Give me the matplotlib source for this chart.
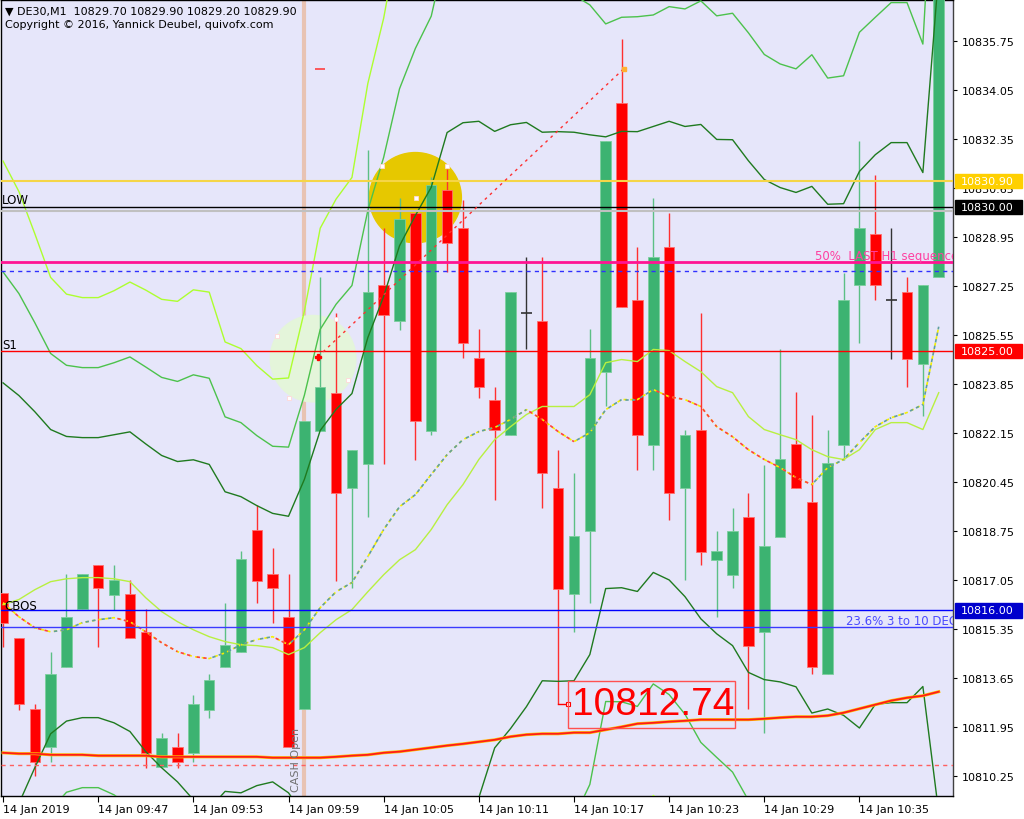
import numpy as np
import matplotlib.pyplot as plt
from matplotlib.patches import Ellipse, Rectangle
import matplotlib.transforms as mtransforms

# DE30 M1, 14 Jan 2019, one bar per minute from 09:41
opens = [10816.62, 10815.06, 10812.59, 10811.27, 10814.05, 10816.06, 10817.59, 10816.55, 10816.58, 10815.26,
         10810.58, 10811.27, 10811.06, 10812.56, 10814.05, 10814.57, 10818.81, 10817.28, 10815.78, 10812.59,
         10822.24, 10823.56, 10820.26, 10821.10, 10827.31, 10826.06, 10829.78, 10822.24, 10830.61, 10829.29,
         10824.78, 10823.32, 10822.10, 10826.31, 10826.06, 10820.26, 10816.58, 10818.77, 10824.29, 10833.60,
         10826.76, 10821.76, 10828.63, 10820.26, 10822.28, 10817.76, 10817.24, 10819.26, 10815.26, 10818.56,
         10821.79, 10819.78, 10813.81, 10821.76, 10827.28, 10829.08, 10826.76, 10827.07, 10824.57, 10827.56]
highs = [10816.62, 10815.06, 10812.76, 10814.57, 10817.28, 10817.28, 10817.59, 10817.59, 10817.07, 10816.06,
         10811.76, 10811.76, 10813.08, 10813.81, 10816.27, 10818.08, 10819.67, 10818.18, 10817.28, 10822.56,
         10827.56, 10826.31, 10821.58, 10832.00, 10829.29, 10830.30, 10829.78, 10831.06, 10831.31, 10830.26,
         10825.78, 10823.77, 10827.07, 10828.28, 10828.28, 10821.58, 10820.78, 10825.78, 10832.28, 10835.82,
         10828.63, 10830.30, 10829.81, 10822.28, 10826.31, 10818.77, 10819.57, 10820.09, 10821.06, 10825.09,
         10823.60, 10822.80, 10822.28, 10827.73, 10832.28, 10831.10, 10829.29, 10827.59, 10827.28, 10838.00]
lows = [10814.74, 10812.56, 10810.26, 10810.75, 10814.05, 10816.06, 10814.74, 10816.03, 10815.06, 10810.54,
        10810.58, 10810.54, 10810.75, 10812.28, 10814.05, 10814.57, 10816.27, 10815.58, 10811.27, 10812.59,
        10822.24, 10817.03, 10816.79, 10819.26, 10821.10, 10825.75, 10821.24, 10822.10, 10827.76, 10824.78,
        10823.39, 10819.85, 10822.10, 10825.06, 10819.57, 10812.74, 10815.26, 10816.27, 10823.08, 10826.55,
        10820.89, 10820.89, 10819.15, 10817.07, 10817.59, 10815.78, 10816.79, 10812.59, 10811.76, 10818.56,
        10820.26, 10813.81, 10813.81, 10821.24, 10825.30, 10826.79, 10824.74, 10823.74, 10822.76, 10827.56]
closes = [10815.58, 10812.76, 10810.75, 10813.81, 10815.78, 10817.28, 10816.79, 10817.07, 10815.06, 10811.06,
          10811.58, 10810.75, 10812.76, 10813.60, 10814.81, 10817.80, 10817.03, 10816.79, 10811.27, 10822.56,
          10823.77, 10820.09, 10821.58, 10827.07, 10826.27, 10829.60, 10822.56, 10830.78, 10828.77, 10825.30,
          10823.77, 10822.28, 10827.07, 10826.31, 10820.78, 10816.76, 10818.60, 10824.78, 10832.28, 10826.55,
          10822.10, 10828.28, 10820.09, 10822.10, 10818.04, 10818.08, 10818.77, 10814.78, 10818.25, 10821.27,
          10820.26, 10814.05, 10821.13, 10826.76, 10829.29, 10827.28, 10826.76, 10824.74, 10827.28, 10838.00]

# bollinger middle line and one deviation (bands drawn at 2, 3 and 4 deviations)
bb_mid = [10816.20, 10816.38, 10816.72, 10817.00, 10817.10, 10817.14, 10817.14, 10817.10, 10817.00, 10816.44,
          10815.96, 10815.61, 10815.33, 10815.09, 10814.92, 10814.81, 10814.78, 10814.71, 10814.47, 10814.71,
          10815.23, 10815.68, 10816.03, 10816.65, 10817.24, 10817.76, 10818.11, 10818.81, 10819.67, 10820.37,
          10821.24, 10821.93, 10822.38, 10822.80, 10823.08, 10823.08, 10823.08, 10823.49, 10824.60, 10824.71,
          10824.64, 10825.06, 10825.02, 10824.64, 10824.29, 10823.77, 10823.56, 10822.73, 10822.28, 10822.10,
          10821.93, 10821.58, 10821.34, 10821.24, 10821.58, 10822.28, 10822.52, 10822.52, 10822.28, 10823.56]
bb_dev = [3.85, 3.54, 3.09, 2.64, 2.47, 2.43, 2.43, 2.50, 2.60, 2.67,
          2.71, 2.78, 2.95, 2.99, 2.60, 2.57, 2.43, 2.33, 2.40, 2.92,
          3.51, 3.65, 3.75, 4.41, 4.83, 5.45, 5.80, 5.94, 6.46, 6.28,
          5.87, 5.35, 5.24, 5.07, 4.76, 4.77, 4.76, 4.51, 3.92, 3.96,
          3.99, 3.87, 3.98, 4.08, 4.29, 4.29, 4.39, 4.44, 4.34, 4.29,
          4.29, 4.57, 4.38, 4.44, 4.83, 4.77, 4.86, 4.86, 4.46, 7.29]

ma_fast = [10816.27, 10815.78, 10815.40, 10815.26, 10815.33, 10815.58, 10815.68, 10815.75, 10815.61, 10815.26,
           10814.88, 10814.57, 10814.40, 10814.33, 10814.53, 10814.81, 10814.99, 10815.09, 10814.81, 10815.33,
           10816.10, 10816.65, 10816.97, 10817.87, 10818.81, 10819.60, 10820.02, 10820.72, 10821.41, 10821.93,
           10822.21, 10822.35, 10822.63, 10822.97, 10822.63, 10822.21, 10821.86, 10822.17, 10822.97, 10823.32,
           10823.32, 10823.67, 10823.42, 10823.32, 10823.08, 10822.38, 10822.03, 10821.58, 10821.24, 10820.96,
           10820.61, 10820.37, 10820.96, 10821.24, 10821.83, 10822.38, 10822.69, 10822.87, 10823.15, 10825.85]

ma_slow = [10811.06, 10811.03, 10811.03, 10810.99, 10810.99, 10810.99, 10810.96, 10810.96, 10810.96, 10810.96,
           10810.92, 10810.92, 10810.92, 10810.92, 10810.92, 10810.92, 10810.92, 10810.89, 10810.89, 10810.89,
           10810.89, 10810.92, 10810.96, 10810.99, 10811.06, 10811.10, 10811.17, 10811.24, 10811.31, 10811.37,
           10811.44, 10811.51, 10811.62, 10811.69, 10811.72, 10811.72, 10811.76, 10811.76, 10811.86, 10811.96,
           10812.07, 10812.10, 10812.14, 10812.17, 10812.21, 10812.21, 10812.21, 10812.21, 10812.24, 10812.28,
           10812.31, 10812.31, 10812.35, 10812.45, 10812.59, 10812.73, 10812.87, 10812.97, 10813.04, 10813.18]

time_ticks = [0, 6, 12, 18, 24, 30, 36, 42, 48, 54]
time_labels = ['14 Jan 2019', '14 Jan 09:47', '14 Jan 09:53', '14 Jan 09:59', '14 Jan 10:05',
               '14 Jan 10:11', '14 Jan 10:17', '14 Jan 10:23', '14 Jan 10:29', '14 Jan 10:35']
price_ticks = [10810.25, 10811.95, 10813.65, 10815.35, 10817.05, 10818.75, 10820.45, 10822.15,
               10823.85, 10825.55, 10827.25, 10828.95, 10830.65, 10832.35, 10834.05, 10835.75]

lvl_low = 10830.00
lvl_yellow = 10830.90
lvl_s1 = 10825.00
lvl_blue = 10816.00
lvl_fib = 10815.42
lvl_h1 = 10828.11
lvl_blue_dash = 10827.80
lvl_grey = 10829.86
lvl_red_dash = 10810.64
swing_low = 10812.74

plt.rcParams['font.family'] = 'DejaVu Sans'
plt.rcParams['font.size'] = 8

fig = plt.figure(figsize=(10.24, 8.2), dpi=100, facecolor='white')
ax = fig.add_axes([1/1024, 23/820, 952/1024, 796/820])
ax.set_facecolor('#e6e6fa')

x = np.arange(len(opens))
o, h, l, c = map(np.array, (opens, highs, lows, closes))
mid = np.array(bb_mid)
dev = np.array(bb_dev)

# background drawings
ax.axvline(19, color='#e8c3b3', lw=3, zorder=1)
ax.add_patch(Ellipse((26.0, 10830.33), 5.8, 3.13, color='#e6c800', zorder=1))
ax.add_patch(Ellipse((19.55, 10824.74), 5.4, 3.0, color='#e4f5da', zorder=1))

# candles
w = 0.66
up = c > o
dn = c < o
fl = c == o
ax.vlines(x[up], l[up], h[up], color='#5cbf85', lw=1, zorder=3)
ax.bar(x[up], c[up] - o[up], bottom=o[up], width=w, color='#3cb371', edgecolor='#7ccf9e', lw=0.6, zorder=3)
ax.vlines(x[dn], l[dn], h[dn], color='#ff3030', lw=1, zorder=3)
ax.bar(x[dn], o[dn] - c[dn], bottom=c[dn], width=w, color='#ff0000', edgecolor='#ff7070', lw=0.6, zorder=3)
ax.vlines(x[fl], l[fl], h[fl], color='#333333', lw=1, zorder=3)
ax.hlines(o[fl], x[fl] - 0.35, x[fl] + 0.35, color='#333333', lw=1.2, zorder=3)

# bands
ax.plot(x, mid, color='#b8f040', lw=1, zorder=4)
for k, col in [(2, '#1f7a1f'), (3, '#4cc24c'), (4, '#adff2f')]:
    ax.plot(x, mid + k * dev, color=col, lw=1, zorder=4)
    ax.plot(x, mid - k * dev, color=col, lw=1, zorder=4)

# fast ma, dotted and coloured by direction
mf = np.array(ma_fast)
ax.plot(x, mf, color='#f5f000', lw=1.2, ls=(0, (2, 2)), zorder=4)
for i in range(len(mf) - 1):
    col = '#ff4040' if mf[i + 1] < mf[i] else '#5f9ea0'
    ax.plot(x[i:i + 2], mf[i:i + 2], color=col, lw=1.2, ls=(2, (2, 2)), zorder=4)

# slow ma
ax.plot(x, ma_slow, color='#ffc000', lw=2.2, zorder=4)
ax.plot(x, ma_slow, color='#ff1a1a', lw=1.3, zorder=4)

# horizontal levels
ax.axhline(lvl_yellow, color='#f5d547', lw=1.5, zorder=5)
ax.axhline(lvl_grey, color='#c0c0c0', lw=1.5, zorder=5)
ax.axhline(lvl_low, color='black', lw=1, zorder=5)
ax.axhline(lvl_h1, color='#ff1493', lw=2, zorder=5)
ax.axhline(lvl_blue_dash, color='#3030ff', lw=1, ls=(0, (3, 3)), zorder=5)
ax.axhline(lvl_s1, color='#ff0000', lw=1, zorder=5)
ax.axhline(lvl_blue, color='#0000ff', lw=1, zorder=5)
ax.axhline(lvl_fib, color='#3a3aff', lw=1, zorder=5)
ax.axhline(lvl_red_dash, color='#ff6060', lw=1, ls=(0, (3, 3)), zorder=5)

ax.text(-0.06, 10830.25, 'LOW', va='center', ha='left', fontsize=8.5, zorder=6)
ax.text(-0.06, 10825.23, 'S1', va='center', ha='left', fontsize=8.5, zorder=6)
ax.text(0.1, 10816.17, 'CBOS', va='center', ha='left', fontsize=8.5, zorder=6)
ax.text(51.2, 10828.33, '50%  LAST H1 sequence', color='#ff3fa0', va='center', ha='left',
        fontsize=8.5, zorder=6, clip_on=True)
ax.text(53.15, 10815.66, '23.6% 3 to 10 DEC', color='#4a4aff', va='center', ha='left',
        fontsize=8.5, zorder=6, clip_on=True)
ax.text(18.45, 10809.75, 'CASH Open', color='#707070', rotation=90, va='bottom', ha='center',
        fontsize=8, zorder=6)

# trend line from the green circle to the high
ax.plot([19.86, 39.15], [10824.81, 10834.81], color='#ff3030', lw=1, ls=(0, (2, 3)), zorder=5)
ax.plot(19.86, 10824.81, marker='P', color='red', ms=5, zorder=6)
ax.plot(39.15, 10834.81, marker='s', color='#ffb030', ms=3, zorder=6)
ax.hlines(10834.78, 19.7, 20.3, color='#ff4040', lw=1.2, zorder=5)
sq_x = [23.9, 28.0, 26.04, 21.0, 21.75, 18.03, 17.28]
sq_y = [10831.44, 10831.44, 10830.33, 10826.13, 10824.01, 10823.39, 10825.51]
ax.plot(sq_x, sq_y, ls='none', marker='s', ms=3, mfc='white', mec='#ffd8d8', mew=0.6, zorder=6)

# swing low label
ax.plot([35, 35.62], [swing_low, swing_low], color='red', lw=1, zorder=5)
ax.plot(35.62, swing_low, marker='s', ms=3, mfc='white', mec='red', mew=0.8, zorder=6)
ax.add_patch(Rectangle((35.62, 10811.93), 10.53, 1.63, fill=False, edgecolor='#ff5050', lw=1, zorder=6))
ax.text(35.85, swing_low + 0.02, f'{swing_low:.2f}', color='red', fontsize=28, family='Liberation Sans',
        va='center', ha='left', zorder=6)

ax.set_xlim(-0.13, 59.9)
ax.set_ylim(10809.56, 10837.19)

for s in ax.spines.values():
    s.set_color('black')
    s.set_linewidth(1)
ax.spines['right'].set_color('#404040')

ax.yaxis.tick_right()
ax.set_yticks(price_ticks)
ax.set_yticklabels([f'{p:.2f}' for p in price_ticks])
ax.tick_params(axis='y', direction='out', length=3, pad=3, labelsize=8, colors='black')
ax.set_xticks(time_ticks)
ax.set_xticklabels(time_labels)
for lbl in ax.get_xticklabels():
    lbl.set_ha('left')
ax.tick_params(axis='x', direction='out', length=4, pad=2, labelsize=8)

# price labels on the scale
tr = mtransforms.blended_transform_factory(ax.transAxes, ax.transData)
for val, col in [(lvl_yellow, '#ffd000'), (lvl_low, 'black'), (lvl_s1, '#ff0000'), (lvl_blue, '#0000cd')]:
    ax.add_patch(Rectangle((1.002, val - 0.25), 0.071, 0.5, transform=tr, fc=col, ec=col,
                           clip_on=False, zorder=9))
    ax.text(1.0085, val, f'{val:.2f}', transform=tr, color='white', fontsize=8, va='center', ha='left',
            clip_on=False, zorder=10)

fig.text(5/1024, 1 - 12/820, '▼ DE30,M1  10829.70 10829.90 10829.20 10829.90', fontsize=8, va='center')
fig.text(5/1024, 1 - 25/820, 'Copyright © 2016, Yannick Deubel, quivofx.com', fontsize=8, va='center')

fig.savefig('out.png', dpi=100, facecolor='white')
